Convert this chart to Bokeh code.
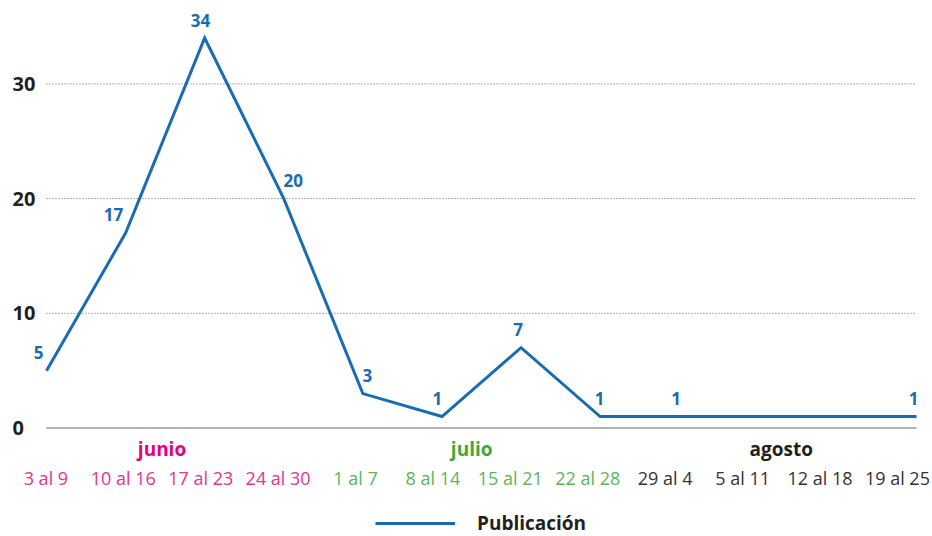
from bokeh.plotting import figure
from bokeh.models import Range1d, ColumnDataSource, LabelSet, Legend, LegendItem
from bokeh.core.properties import value
from bokeh.embed import file_html
from bokeh.resources import INLINE

# ---------------- data ----------------
weeks = ["3 al 9", "10 al 16", "17 al 23", "24 al 30",
         "1 al 7", "8 al 14", "15 al 21", "22 al 28",
         "29 al 4", "5 al 11", "12 al 18", "19 al 25"]
week_month = ["junio"] * 4 + ["julio"] * 4 + ["agosto"] * 4
months = ["junio", "julio", "agosto"]
publicacion = [5, 17, 34, 20, 3, 1, 7, 1, 1, None, None, 1]
y_ticks = [0, 10, 20, 30]
series_name = "Publicación"

# ---------------- style ----------------
BLUE = "#1a6cb2"
DARK = "#231f20"
month_colors = {"junio": "#e4007e", "julio": "#3aaa35", "agosto": DARK}
week_colors = {"junio": "#e5338f", "julio": "#5cb55a", "agosto": "#333333"}
FONT = "Open Sans"

W, H = 932, 536
n = len(weeks)
p = figure(width=W, height=H, output_backend="svg", toolbar_location=None,
           title=None, x_axis_location=None, y_axis_location=None,
           x_range=Range1d(-0.5816, 11.2023), y_range=Range1d(-9.46, 37.27),
           min_border=0)
p.outline_line_color = None
p.background_fill_color = "white"
p.border_fill_color = "white"
for g in list(p.grid):
    g.visible = False

# extra range for the week / month label row (evenly spaced across the width)
p.extra_x_ranges = {"weeks": Range1d(-0.5865, 11.453)}

# grid lines (dotted) and the zero baseline, spanning the series' extent
gt = [t for t in y_ticks if t != 0]
p.segment(x0=[0] * len(gt), x1=[n - 1] * len(gt), y0=gt, y1=gt,
          line_color="#666666", line_dash="1 2", line_width=1)
p.segment(x0=[0], x1=[n - 1], y0=[0], y1=[0], line_color="#9a9a9a", line_width=1.5)

# y tick labels (left aligned)
ysrc = ColumnDataSource(dict(x=[-0.43] * len(y_ticks), y=y_ticks, t=[str(t) for t in y_ticks]))
p.add_layout(LabelSet(x="x", y="y", text="t", source=ysrc, text_font=value(FONT),
                      text_font_size="20px", text_font_style="bold", text_color=DARK,
                      text_align="left", text_baseline="middle"))

# line
xs = [i for i, v in enumerate(publicacion) if v is not None]
ys = [v for v in publicacion if v is not None]
dx = []
for k in range(len(xs)):
    s_in = (ys[k] - ys[k - 1]) if k > 0 else 0
    s_out = (ys[k + 1] - ys[k]) if k < len(xs) - 1 else 0
    d = -3 - 0.4 * (s_in + s_out)
    dx.append(max(-12, min(12, d)))
src = ColumnDataSource(dict(x=xs, y=ys, label=[str(v) for v in ys], dx=dx))
line = p.line("x", "y", source=src, line_color=BLUE, line_width=3, line_join="miter")

p.add_layout(LabelSet(x="x", y="y", text="label", source=src, x_offset="dx", y_offset=18,
                      text_font=value(FONT), text_font_size="17px", text_font_style="bold",
                      text_color=BLUE, text_align="center", text_baseline="middle"))

# week labels
wsrc = ColumnDataSource(dict(x=list(range(n)), y=[-4.40] * n, t=weeks,
                             c=[week_colors[m] for m in week_month]))
p.add_layout(LabelSet(x="x", y="y", text="t", source=wsrc, x_range_name="weeks",
                      text_font=value(FONT), text_font_size="18px", text_color="c",
                      text_align="center", text_baseline="middle"))

# month labels
mx = []
for m in months:
    idx = [i for i, wm in enumerate(week_month) if wm == m]
    mx.append(sum(idx) / len(idx))
msrc = ColumnDataSource(dict(x=mx, y=[-1.79] * len(months), t=months,
                             c=[month_colors[m] for m in months]))
p.add_layout(LabelSet(x="x", y="y", text="t", source=msrc, x_range_name="weeks",
                      text_font=value(FONT), text_font_size="19px", text_font_style="bold",
                      text_color="c", text_align="center", text_baseline="middle"))

# legend
legend = Legend(items=[LegendItem(label=series_name, renderers=[line])],
                location=(375, 0), glyph_width=80, glyph_height=18, label_height=18,
                label_standoff=22, padding=0, margin=0,
                border_line_alpha=0, background_fill_alpha=0,
                label_text_font=FONT, label_text_font_size="19px",
                label_text_font_style="bold", label_text_color=DARK)
p.add_layout(legend)

open("out.html", "w").write(file_html(p, INLINE))
